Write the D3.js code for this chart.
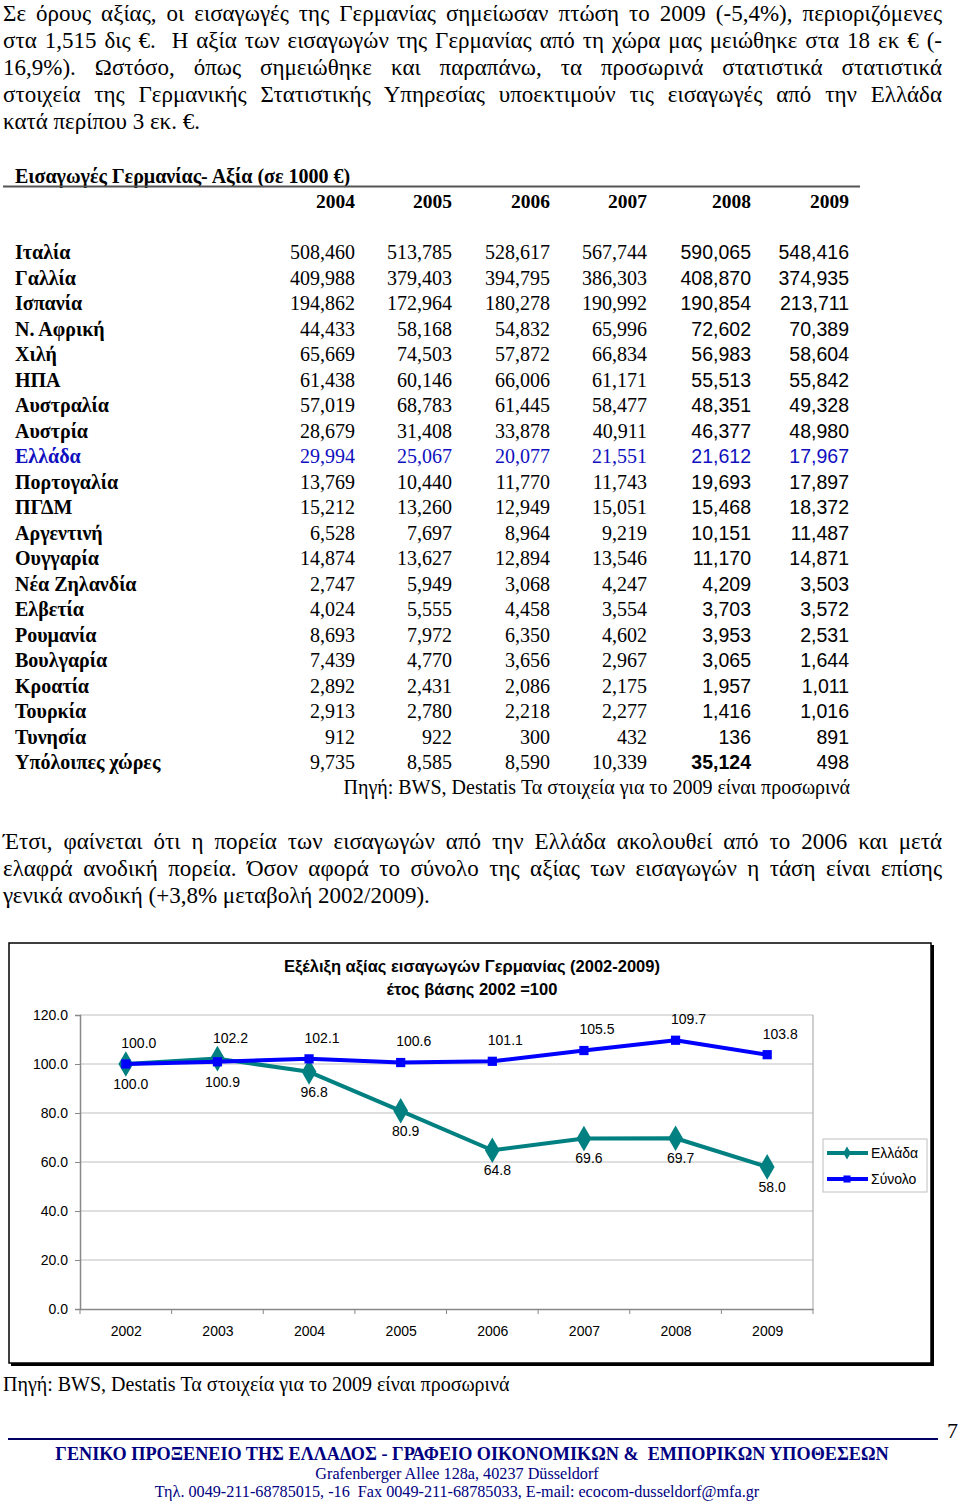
<!DOCTYPE html>
<html><head><meta charset="utf-8">
<script src="https://cdn.jsdelivr.net/npm/d3@7"></script>
<style>html,body{margin:0;padding:0;background:#fff;}svg{display:block;}</style>
</head><body>
<script>
// ---------- DATA ----------
const paragraph1 = [
  "Σε όρους αξίας, οι εισαγωγές της Γερμανίας σημείωσαν πτώση το 2009 (-5,4%), περιοριζόμενες",
  "στα 1,515 δις €.  Η αξία των εισαγωγών της Γερμανίας από τη χώρα μας μειώθηκε στα 18 εκ € (-",
  "16,9%). Ωστόσο, όπως σημειώθηκε και παραπάνω, τα προσωρινά στατιστικά στατιστικά",
  "στοιχεία της Γερμανικής Στατιστικής Υπηρεσίας υποεκτιμούν τις εισαγωγές από την Ελλάδα",
  "κατά περίπου 3 εκ. €."
];
const tableTitle = "Εισαγωγές Γερμανίας- Αξία (σε 1000 €)";
const tableYears = ["2004","2005","2006","2007","2008","2009"];
const countries = ["Ιταλία","Γαλλία","Ισπανία","Ν. Αφρική","Χιλή","ΗΠΑ","Αυστραλία","Αυστρία","Ελλάδα","Πορτογαλία","ΠΓΔΜ","Αργεντινή","Ουγγαρία","Νέα Ζηλανδία","Ελβετία","Ρουμανία","Βουλγαρία","Κροατία","Τουρκία","Τυνησία","Υπόλοιπες χώρες"];
const v2004 = [508460,409988,194862,44433,65669,61438,57019,28679,29994,13769,15212,6528,14874,2747,4024,8693,7439,2892,2913,912,9735];
const v2005 = [513785,379403,172964,58168,74503,60146,68783,31408,25067,10440,13260,7697,13627,5949,5555,7972,4770,2431,2780,922,8585];
const v2006 = [528617,394795,180278,54832,57872,66006,61445,33878,20077,11770,12949,8964,12894,3068,4458,6350,3656,2086,2218,300,8590];
const v2007 = [567744,386303,190992,65996,66834,61171,58477,40911,21551,11743,15051,9219,13546,4247,3554,4602,2967,2175,2277,432,10339];
const v2008 = [590065,408870,190854,72602,56983,55513,48351,46377,21612,19693,15468,10151,11170,4209,3703,3953,3065,1957,1416,136,35124];
const v2009 = [548416,374935,213711,70389,58604,55842,49328,48980,17967,17897,18372,11487,14871,3503,3572,2531,1644,1011,1016,891,498];
const sourceText = "Πηγή: BWS, Destatis Τα στοιχεία για το 2009 είναι προσωρινά";
const paragraph2 = [
  "Έτσι, φαίνεται ότι η πορεία των εισαγωγών από την Ελλάδα ακολουθεί από το 2006 και μετά",
  "ελαφρά ανοδική πορεία. Όσον αφορά το σύνολο της αξίας των εισαγωγών η τάση είναι επίσης",
  "γενικά ανοδική (+3,8% μεταβολή 2002/2009)."
];
const chartTitle = ["Εξέλιξη αξίας εισαγωγών Γερμανίας (2002-2009)", "έτος βάσης 2002 =100"];
const chartYears = ["2002","2003","2004","2005","2006","2007","2008","2009"];
const greece = [100.0,102.2,96.8,80.9,64.8,69.6,69.7,58.0];
const total  = [100.0,100.9,102.1,100.6,101.1,105.5,109.7,103.8];
const seriesNames = ["Ελλάδα","Σύνολο"];
const yTicks = [0,20,40,60,80,100,120];
const footer = [
  "ΓΕΝΙΚΟ ΠΡΟΞΕΝΕΙΟ ΤΗΣ ΕΛΛΑΔΟΣ - ΓΡΑΦΕΙΟ ΟΙΚΟΝΟΜΙΚΩΝ &  ΕΜΠΟΡΙΚΩΝ ΥΠΟΘΕΣΕΩΝ",
  "Grafenberger Allee 128a, 40237 Düsseldorf",
  "Τηλ. 0049-211-68785015, -16  Fax 0049-211-68785033, E-mail: ecocom-dusseldorf@mfa.gr"
];
const pageNumber = "7";

// ---------- RENDER ----------
const SERIF = "'Liberation Serif','Times New Roman',serif";
const SANS = "'Liberation Sans',Arial,sans-serif";
const svg = d3.select("body").append("svg").attr("width",960).attr("height",1509);
svg.append("rect").attr("width",960).attr("height",1509).attr("fill","#fff");

function text(s, x, y, o={}) {
  const t = svg.append("text").attr("x",x).attr("y",y)
    .attr("font-family", o.family||SERIF).attr("font-size", o.size||20)
    .attr("font-weight", o.weight||"normal").attr("fill", o.fill||"#000")
    .attr("text-anchor", o.anchor||"start").style("white-space","pre").text(s);
  if (o.justify) {
    const nat = t.node().getComputedTextLength();
    const n = (s.match(/ /g)||[]).length;
    if (n) t.attr("word-spacing", (o.justify - nat)/n);
  }
  return t;
}

const BODY = 23;
// paragraph 1
paragraph1.forEach((l,i)=>{
  text(l, 3, 20.5 + i*27, {size:BODY, justify: i<paragraph1.length-1 ? 939 : null});
});

// table
text(tableTitle, 15, 183, {size:20, weight:"bold"});
svg.append("line").attr("x1",3).attr("x2",860).attr("y1",186.5).attr("y2",186.5).attr("stroke","#555").attr("stroke-width",2);
const colRight = d3.scaleOrdinal().domain(tableYears).range([355,452,550,647,751,849]);
tableYears.forEach(y=> text(y, colRight(y), 208, {size:19.5, weight:"bold", anchor:"end"}));
const rowY = d3.scaleLinear().domain([0,1]).range([259,284.5]);
const fmt = d3.format(",");
const cols = [v2004,v2005,v2006,v2007,v2008,v2009];
countries.forEach((c,i)=>{
  const isGR = c==="Ελλάδα";
  const fill = isGR ? "#1010c0" : "#000";
  text(c, 15, rowY(i), {size:20, weight:"bold", fill});
  cols.forEach((arr,j)=>{
    const sans = j>=4;
    const bold = (c==="Υπόλοιπες χώρες" && j===4);
    text(fmt(arr[i]), colRight(tableYears[j]), rowY(i), {size: sans?19.5:20, family: sans?SANS:SERIF, anchor:"end", fill, weight: bold?"bold":"normal"});
  });
});
text(sourceText, 850, 794, {size:20, anchor:"end"});

// paragraph 2
paragraph2.forEach((l,i)=>{
  text(l, 3, 849 + i*27.2, {size:BODY, justify: i<paragraph2.length-1 ? 939 : null});
});

// ---------- CHART ----------
const ch = svg.append("g");
// frame with shadow
ch.append("rect").attr("x",11).attr("y",945).attr("width",923).attr("height",421).attr("fill","#000");
ch.append("rect").attr("x",9).attr("y",943).attr("width",922).attr("height",420).attr("fill","#fff").attr("stroke","#000").attr("stroke-width",1.5);

const x = d3.scalePoint().domain(chartYears).range([80,813]).padding(0.5);
const y = d3.scaleLinear().domain([0,120]).range([1309,1015]);

// gridlines
ch.append("g").selectAll("line").data(yTicks.filter(d=>d>0)).join("line")
  .attr("x1",80).attr("x2",813).attr("y1",d=>y(d)).attr("y2",d=>y(d))
  .attr("stroke","#c0c0c0").attr("stroke-width",1.2);
// plot border right
ch.append("line").attr("x1",813).attr("x2",813).attr("y1",y(120)).attr("y2",y(0)).attr("stroke","#b0b0b0").attr("stroke-width",1.2);

// y axis
const yAxis = ch.append("g").attr("transform","translate(80,0)")
  .call(d3.axisLeft(y).tickValues(yTicks).tickFormat(d3.format(".1f")).tickSize(5).tickPadding(7));
yAxis.select(".domain").attr("stroke","#888").attr("stroke-width",1.5);
yAxis.selectAll(".tick line").attr("stroke","#888");
yAxis.selectAll("text").attr("font-family",SANS).attr("font-size",14).attr("fill","#000");

// x axis
const step = x.step();
const xAxis = ch.append("g").attr("transform",`translate(0,${y(0)})`)
  .call(d3.axisBottom(x).tickSize(0).tickPadding(17));
xAxis.select(".domain").attr("stroke","#888").attr("stroke-width",1.5);
xAxis.selectAll("text").attr("font-family",SANS).attr("font-size",14).attr("fill","#000");
ch.append("g").selectAll("line").data(d3.range(chartYears.length+1)).join("line")
  .attr("x1",i=>80+i*step).attr("x2",i=>80+i*step).attr("y1",y(0)).attr("y2",y(0)+5)
  .attr("stroke","#888").attr("stroke-width",1);

// titles
chartTitle.forEach((t,i)=> ch.append("text").attr("x",472).attr("y",972+i*23)
  .attr("text-anchor","middle").attr("font-family",SANS).attr("font-weight","bold")
  .attr("font-size",16.5).attr("fill","#000").text(t));

const colors = ["#008080","#0000ff"];
const data = [greece,total];
const line = d3.line().x((d,i)=>x(chartYears[i])).y(d=>y(d));
data.forEach((vals,k)=>{
  ch.append("path").datum(vals).attr("d",line).attr("fill","none")
    .attr("stroke",colors[k]).attr("stroke-width",4).attr("stroke-linejoin","round");
  const sym = k===0 ? d3.symbol(d3.symbolDiamond, 190) : d3.symbol(d3.symbolSquare, 85);
  ch.append("g").selectAll("path").data(vals).join("path")
    .attr("transform",(d,i)=>`translate(${x(chartYears[i])},${y(d)})`)
    .attr("d",sym).attr("fill",colors[k]);
});
// data labels
data.forEach((vals,k)=>{
  const other = data[1-k];
  ch.append("g").selectAll("text").data(vals).join("text")
    .attr("x",(d,i)=>{
      const above = k===0 ? d>=other[i] : d>other[i];
      return x(chartYears[i]) + (above?13:5);
    })
    .attr("y",(d,i)=>{
      const above = k===0 ? d>=other[i] : d>other[i];
      return y(d) + (above?-21:20);
    })
    .attr("dy","0.35em").attr("text-anchor","middle")
    .attr("font-family",SANS).attr("font-size",14).attr("fill","#000")
    .text(d=>d3.format(".1f")(d));
});

// legend
const lg = ch.append("g");
lg.append("rect").attr("x",823).attr("y",1139).attr("width",104).attr("height",53)
  .attr("fill","#fff").attr("stroke","#c0c0c0").attr("stroke-width",1);
seriesNames.forEach((n,k)=>{
  const ly = 1153 + k*26;
  lg.append("line").attr("x1",827).attr("x2",868).attr("y1",ly).attr("y2",ly)
    .attr("stroke",colors[k]).attr("stroke-width",4);
  lg.append("path").attr("transform",`translate(847,${ly})`)
    .attr("d", k===0 ? d3.symbol(d3.symbolDiamond,50) : d3.symbol(d3.symbolSquare,50)).attr("fill",colors[k]);
  lg.append("text").attr("x",871).attr("y",ly).attr("dy","0.35em")
    .attr("font-family",SANS).attr("font-size",14).attr("fill","#000").text(n);
});

// chart source
text(sourceText, 3, 1391, {size:20});

// footer
svg.append("line").attr("x1",8).attr("x2",938).attr("y1",1439).attr("y2",1439).attr("stroke","#000060").attr("stroke-width",2);
text(pageNumber, 958, 1438, {size:22, anchor:"end"});
text(footer[0], 472, 1460, {size:18.2, weight:"bold", anchor:"middle", fill:"#000080"});
text(footer[1], 457, 1479, {size:16.2, anchor:"middle", fill:"#000080"});
text(footer[2], 457, 1497, {size:16.2, anchor:"middle", fill:"#000080"});
</script>
</body></html>
